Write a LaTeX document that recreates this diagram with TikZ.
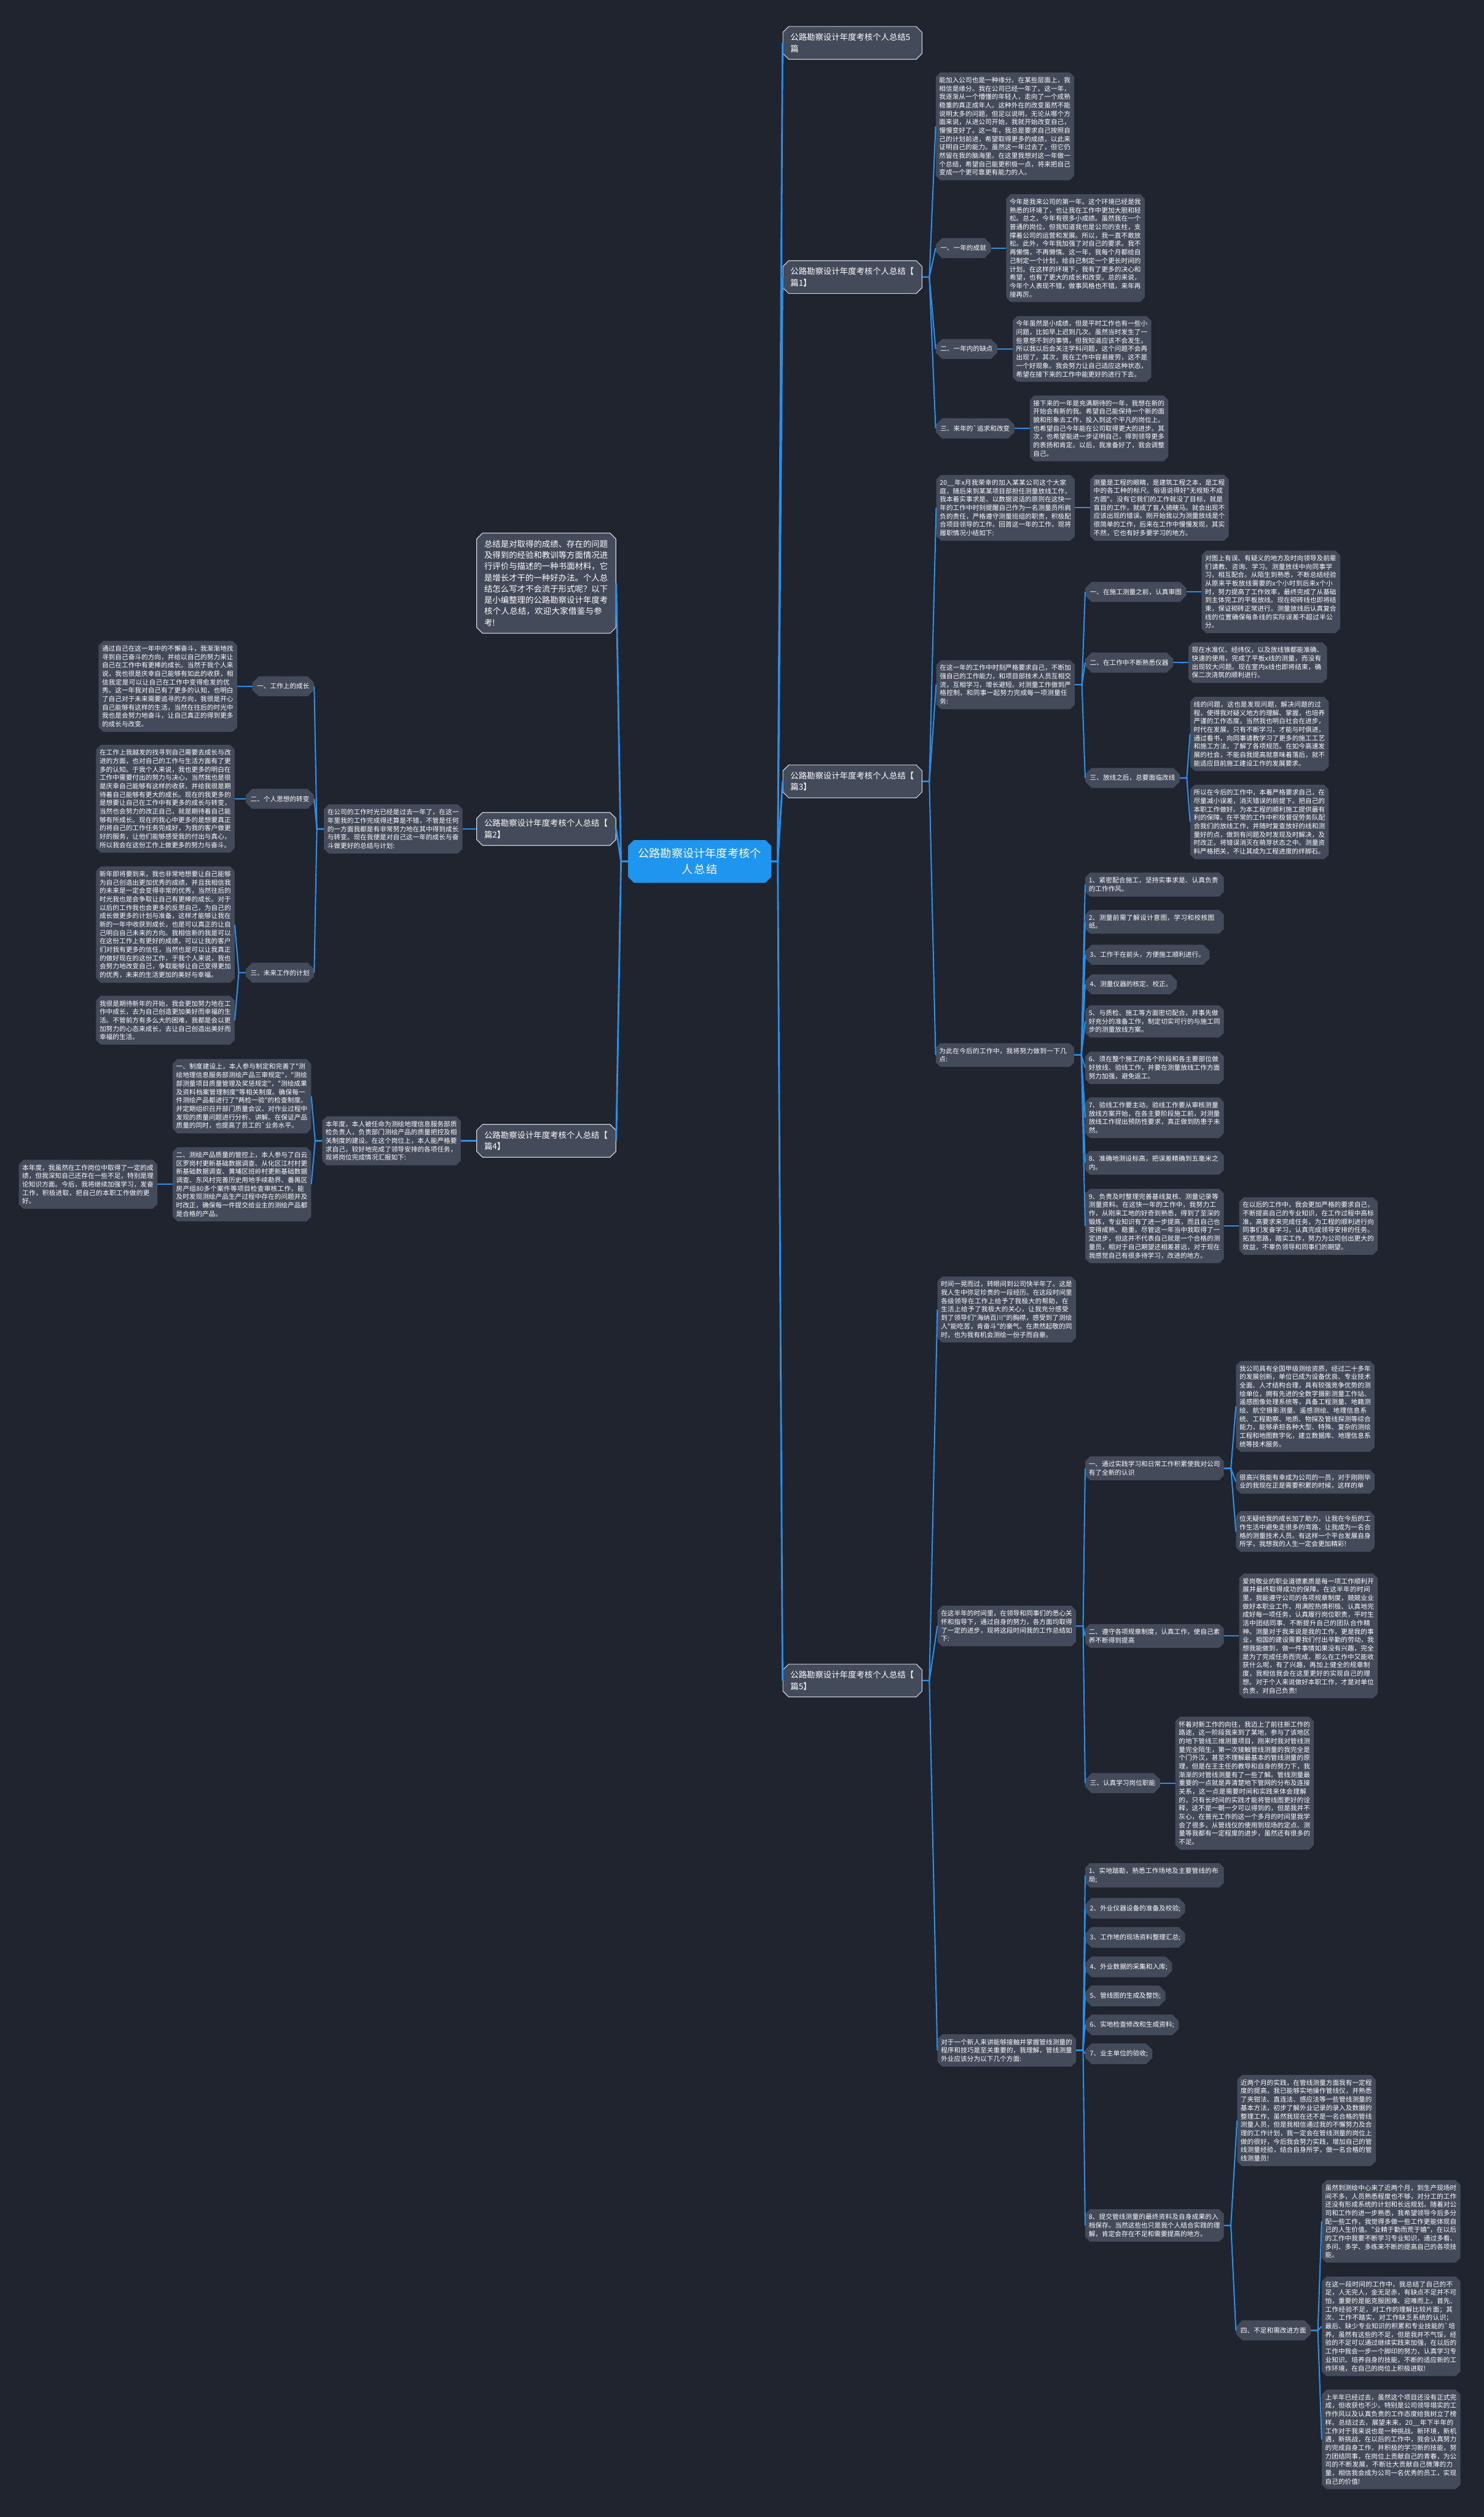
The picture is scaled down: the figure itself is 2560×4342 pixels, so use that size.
\documentclass[tikz,border=0pt]{standalone}
\usepackage{fontspec}
\newfontfamily\cjk{Noto Sans CJK SC}
\XeTeXlinebreaklocale "zh"
\XeTeXlinebreakskip = 0pt plus 1pt
\usetikzlibrary{shapes.misc}
\usetikzlibrary{positioning}
\definecolor{bgcol}{HTML}{20242F}
\definecolor{boxcol}{HTML}{434A59}
\definecolor{rimcol}{HTML}{CDD1D9}
\definecolor{edgecol}{HTML}{2B8FE6}
\definecolor{rootcol}{HTML}{1E96F0}
\tikzstyle{root} = [chamfered rectangle, chamfered rectangle xsep=5pt, chamfered rectangle ysep=5pt,
fill=rootcol, text=white, font={\cjk\fontsize{19.3pt}{27.7pt}\selectfont}, text width=213pt,
align=center, inner xsep=12pt, inner ysep=9pt]
\tikzstyle{topic} = [chamfered rectangle, chamfered rectangle xsep=5pt, chamfered rectangle ysep=5pt,
draw=rimcol, line width=1.2pt, fill=boxcol, text=white, font={\cjk\fontsize{14.2pt}{19.4pt}\selectfont},
text width=214pt, align=left, inner xsep=8pt, inner ysep=7pt]
\tikzstyle{leaf} = [chamfered rectangle, chamfered rectangle xsep=4pt, chamfered rectangle ysep=4pt,
fill=boxcol, text=white, font={\cjk\fontsize{11.3pt}{14.5pt}\selectfont}, text width=227pt,
align=left, inner xsep=2pt, inner ysep=4pt]
\tikzstyle{tag} = [chamfered rectangle, chamfered rectangle xsep=5pt, chamfered rectangle ysep=6pt,
fill=boxcol, text=white, font={\cjk\fontsize{11.3pt}{14.5pt}\selectfont}, inner xsep=3pt, inner ysep=6pt]
\tikzstyle{link} = [draw=edgecol, line width=2.2pt]
\tikzstyle{trunk} = [draw=edgecol, line width=3pt]

\begin{document}
\begin{tikzpicture}[x=1pt, y=-1pt, node distance=26pt]
	\useasboundingbox (0,0) rectangle (2560,4342);
	\fill[bgcol] (0,0) rectangle (2560,4342);
	\node [root] (root) at (1207,1486) {公路勘察设计年度考核个\\人总结};
	%% Right topics
	\node [topic, anchor=west] (t5) at (1350,74) {公路勘察设计年度考核个人总结5\\篇};
	\node [topic, anchor=west] (t1) at (1350,478) {公路勘察设计年度考核个人总结【\\篇1】};
	\node [topic, anchor=west] (t3) at (1350,1348) {公路勘察设计年度考核个人总结【\\篇3】};
	\node [topic, anchor=west] (t6) at (1350,2899) {公路勘察设计年度考核个人总结【\\篇5】};
	%% Left topics
	\node [topic, anchor=east] (intro) at (1063,1006) {总结是对取得的成绩、存在的问题及得到的经验和教训等方面情况进行评价与描述的一种书面材料，它是增长才干的一种好办法。个人总结怎么写才不会流于形式呢？以下是小编整理的公路勘察设计年度考核个人总结，欢迎大家借鉴与参考!};
	\node [topic, anchor=east] (t2) at (1063,1430) {公路勘察设计年度考核个人总结【\\篇2】};
	\node [topic, anchor=east] (t4) at (1063,1968) {公路勘察设计年度考核个人总结【\\篇4】};

	%% Part 1
	\node [leaf, anchor=west] (p1t) at (1614,218) {能加入公司也是一种缘分。在某些层面上，我相信是缘分。我在公司已经一年了。这一年，我逐渐从一个懵懂的年轻人，走向了一个成熟稳重的真正成年人。这种外在的改变虽然不能说明太多的问题，但足以说明，无论从哪个方面来说，从进公司开始，我就开始改变自己，慢慢变好了。这一年，我总是要求自己按照自己的计划前进，希望取得更多的成绩，以此来证明自己的能力。虽然这一年过去了，但它仍然留在我的脑海里。在这里我想对这一年做一个总结，希望自己能更积极一点，将来把自己变成一个更可靠更有能力的人。};
	\node [tag, anchor=west] (l1a) at (1614,428) {一、一年的成就};
	\node [tag, anchor=west] (l1b) at (1614,602) {二、一年内的缺点};
	\node [tag, anchor=west] (l1c) at (1614,739) {三、来年的`追求和改变};
	\node [leaf, right=of l1a] (b1a) {今年是我来公司的第一年。这个环境已经是我熟悉的环境了，也让我在工作中更加大胆和轻松。总之，今年有很多小成绩。虽然我在一个普通的岗位，但我知道我也是公司的支柱，支撑着公司的运营和发展。所以，我一直不敢放松。此外，今年我加强了对自己的要求。我不再懒惰，不再懒惰。这一年，我每个月都给自己制定一个计划，给自己制定一个更长时间的计划。在这样的环境下，我有了更多的决心和希望，也有了更大的成长和改变。总的来说，今年个人表现不错，做事风格也不错，来年再接再厉。};
	\node [leaf, right=of l1b] (b1b) {今年虽然是小成绩，但是平时工作也有一些小问题，比如早上迟到几次。虽然当时发生了一些意想不到的事情，但我知道应该不会发生。所以我以后会关注学科问题，这个问题不会再出现了。其次，我在工作中容易疲劳，这不是一个好现象。我会努力让自己适应这种状态，希望在接下来的工作中能更好的进行下去。};
	\node [leaf, right=of l1c] (b1c) {接下来的一年是充满期待的一年，我想在新的开始会有新的我。希望自己能保持一个新的面貌和形象去工作，投入到这个平凡的岗位上。也希望自己今年能在公司取得更大的进步。其次，也希望能进一步证明自己，得到领导更多的表扬和肯定。以后，我准备好了，我会调整自己。};

	%% Part 3
	\node [leaf, anchor=west] (p3t) at (1615,876) {20\_\_年x月我荣幸的加入某某公司这个大家庭，随后来到某某项目部担任测量放线工作，我本着实事求是、以数据说话的原则在这快一年的工作中时刻提醒自己作为一名测量员所肩负的责任，严格遵守测量班组的职责，积极配合项目领导的工作。回首这一年的工作，现将履职情况小结如下:};
	\node [leaf, right=of p3t] (b3t) {测量是工程的眼睛，是建筑工程之本，是工程中的各工种的标尺。俗语说得好"无规矩不成方圆"。没有它我们的工作就没了目标，就是盲目的工作，就成了盲人骑瞎马。就会出现不应该出现的错误。刚开始我以为测量放线是个很简单的工作，后来在工作中慢慢发现，其实不然，它也有好多要学习的地方。};
	\node [leaf, anchor=west] (p3m) at (1615,1181) {在这一年的工作中时刻严格要求自己，不断加强自己的工作能力，和项目部技术人员互相交流，互相学习，增长避短。对测量工作做到严格控制，和同事一起努力完成每一项测量任务:};
	\node [tag, anchor=west] (l3a) at (1872,1021) {一、在施工测量之前，认真审图};
	\node [tag, anchor=west] (l3b) at (1872,1143) {二、在工作中不断熟悉仪器};
	\node [tag, anchor=west] (l3c) at (1872,1342) {三、放线之后，总要面临改线};
	\node [leaf, right=of l3a] (b3a) {对图上有误、有疑义的地方及时向领导及前辈们请教、咨询、学习。测量放线中向同事学习，相互配合。从陌生到熟悉，不断总结经验从原来平板放线需要的x个小时到后来x个小时，努力提高了工作效率，最终完成了从基础到主体完工的平板放线。现在砌砖线也即将结束，保证砌砖正常进行。测量放线后认真复合线的位置确保每条线的实际误差不超过半公分。};
	\node [leaf, right=of l3b] (b3b) {现在水准仪、经纬仪，以及放线锥都能准确、快速的使用，完成了平板x线的测量，而没有出现较大问题。现在室内x线也即将结束，确保二次浇筑的顺利进行。};
	\node [leaf, anchor=west] (b3c1) at (2053,1266) {线的问题，这也是发现问题，解决问题的过程，使得我对疑义地方的理解、掌握，也培养严谨的工作态度。当然我也明白社会在进步，时代在发展，只有不断学习，才能与时俱进，通过看书，向同事请教学习了更多的施工工艺和施工方法，了解了各项规范。在如今高速发展的社会，不能自我提高就意味着落后，就不能适应目前施工建设工作的发展要求。};
	\node [leaf, anchor=west] (b3c2) at (2053,1418) {所以在今后的工作中，本着严格要求自己，在尽量减小误差，消灭错误的前提下。把自己的本职工作做好。为本工程的顺利施工提供最有利的保障。在平常的工作中积极督促劳务队配合我们的放线工作，并随时复查放好的线和测量好的点，做到有问题及时发现及时解决，及时改正。将错误消灭在萌芽状态之中。测量资料严格把关，不让其成为工程进度的绊脚石。};
	\node [leaf, anchor=west] (p3n) at (1614,1820) {为此在今后的工作中，我将努力做到一下几点:};
	\node [leaf, anchor=west] (i31) at (1872,1526) {1、紧密配合施工，坚持实事求是、认真负责的工作作风。};
	\node [leaf, anchor=west] (i32) at (1872,1590) {2、测量前需了解设计意图，学习和校核图纸。};
	\node [tag, anchor=west] (i33) at (1872,1647) {3、工作干在前头，方便施工顺利进行。};
	\node [tag, anchor=west] (i34) at (1872,1698) {4、测量仪器的核定、校正。};
	\node [leaf, anchor=west] (i35) at (1872,1762) {5、与质检、施工等方面密切配合，并事先做好充分的准备工作，制定切实可行的与施工同步的测量放线方案。};
	\node [leaf, anchor=west] (i36) at (1872,1842) {6、须在整个施工的各个阶段和各主要部位做好放线、验线工作，并要在测量放线工作方面努力加强，避免返工。};
	\node [leaf, anchor=west] (i37) at (1872,1928) {7、验线工作要主动。验线工作要从审核测量放线方案开始，在各主要阶段施工前，对测量放线工作提出预防性要求，真正做到防患于未然。};
	\node [leaf, anchor=west] (i38) at (1872,2006) {8、准确地测设标高，把误差精确到五毫米之内。};
	\node [leaf, anchor=west] (i39) at (1872,2115) {9、负责及时整理完善基线复核、测量记录等测量资料。在这快一年的工作中，我努力工作，从刚来工地的好奇到熟悉，得到了至深的锻炼，专业知识有了进一步提高，而且自己也变得成熟、稳重。尽管这一年当中我取得了一定进步，但这并不代表自己就是一个合格的测量员，相对于自己期望还相差甚远，对于现在我感觉自己有很多待学习，改进的地方。};
	\node [leaf, right=of i39] (b3n) {在以后的工作中，我会更加严格的要求自己，不断提高自己的专业知识，在工作过程中高标准，高要求来完成任务，为工程的顺利进行向同事们发奋学习，认真完成领导安排的任务。拓宽思路，踏实工作，努力为公司创出更大的效益，不辜负领导和同事们的期望。};

	%% Part 5
	\node [leaf, anchor=west] (p6t) at (1617,2259) {时间一晃而过，转眼间到公司快半年了。这是我人生中弥足珍贵的一段经历。在这段时间里各级领导在工作上给予了我极大的帮助，在生活上给予了我极大的关心，让我充分感受到了领导们"海纳百川"的胸襟，感受到了测绘人"能吃苦，肯奋斗"的豪气。在肃然起敬的同时，也为我有机会测绘一份子而自豪。};
	\node [leaf, anchor=west] (p6m) at (1617,2805) {在这半年的时间里，在领导和同事们的悉心关怀和指导下，通过自身的努力，各方面均取得了一定的进步，现将这段时间我的工作总结如下:};
	\node [leaf, anchor=west] (l6a) at (1872,2533) {一、通过实践学习和日常工作积累使我对公司有了全新的认识};
	\node [leaf, anchor=west] (l6b) at (1872,2822) {二、遵守各项规章制度，认真工作，使自己素养不断得到提高};
	\node [tag, anchor=west] (l6c) at (1872,3076) {三、认真学习岗位职能};
	\node [leaf, anchor=west] (b6a1) at (2132,2426) {我公司具有全国甲级测绘资质，经过二十多年的发展创新，单位已成为设备优良、专业技术全面、人才结构合理，具有较强竞争优势的测绘单位，拥有先进的全数字摄影测量工作站、遥感图像处理系统等，具备工程测量、地籍测绘、航空摄影测量、遥感测绘、地理信息系统、工程勘察、地质、物探及管线探测等综合能力，能够承担各种大型、特殊、复杂的测绘工程和地图数字化，建立数据库、地理信息系统等技术服务。};
	\node [leaf, anchor=west] (b6a2) at (2132,2556) {很高兴我能有幸成为公司的一员，对于刚刚毕业的我现在正是需要积累的时候，这样的单};
	\node [leaf, anchor=west] (b6a3) at (2132,2642) {位无疑给我的成长加了助力，让我在今后的工作生活中避免走很多的弯路，让我成为一名合格的测量技术人员。有这样一个平台发展自身所学，我想我的人生一定会更加精彩!};
	\node [leaf, right=of l6b] (b6b) {爱岗敬业的职业道德素质是每一项工作顺利开展并最终取得成功的保障。在这半年的时间里，我能遵守公司的各项规章制度，兢兢业业做好本职业工作，用满腔热情积极、认真地完成好每一项任务，认真履行岗位职责，平时生活中团结同事、不断提升自己的团队合作精神。测量对于我来说是我的工作，更是我的事业，祖国的建设需要我们付出辛勤的劳动，我想我能做到，做一件事情如果没有兴趣，完全是为了完成任务而完成，那么在工作中又能收获什么呢，有了兴趣，再加上健全的规章制度，我相信我会在这里更好的实现自己的理想。对于个人来说做好本职工作，才是对单位负责，对自己负责!};
	\node [leaf, right=of l6c] (b6c) {怀着对新工作的向往，我迈上了前往新工作的路途，这一阶段我来到了某地，参与了该地区的地下管线三维测量项目，刚来时我对管线测量完全陌生，第一次接触管线测量的我完全是个门外汉，甚至不理解最基本的管线测量的原理，但是在王主任的教导和自身的努力下，我渐渐的对管线测量有了一些了解。管线测量最重要的一点就是弄清楚地下管网的分布及连接关系，这一点是需要时间和实践来体会理解的，只有长时间的实践才能将管线图更好的诠释，这不是一朝一夕可以得到的，但是我并不灰心，在普光工作的这一个多月的时间里我学会了很多，从管线仪的使用到现场的定点、测量等我都有一定程度的进步，虽然还有很多的不足。};
	\node [leaf, anchor=west] (p6n) at (1617,3537) {对于一个新人来讲能够接触并掌握管线测量的程序和技巧是至关重要的，我理解，管线测量外业应该分为以下几个方面:};
	\node [leaf, anchor=west] (i61) at (1872,3235) {1、实地踏勘，熟悉工作场地及主要管线的布局;};
	\node [tag, anchor=west] (i62) at (1872,3292) {2、外业仪器设备的准备及校验;};
	\node [tag, anchor=west] (i63) at (1872,3342) {3、工作地的现场资料整理汇总;};
	\node [tag, anchor=west] (i64) at (1872,3393) {4、外业数据的采集和入库;};
	\node [tag, anchor=west] (i65) at (1872,3443) {5、管线图的生成及整饬;};
	\node [tag, anchor=west] (i66) at (1872,3493) {6、实地检查修改和生成资料;};
	\node [tag, anchor=west] (i67) at (1872,3543) {7、业主单位的验收;};
	\node [leaf, anchor=west] (i68) at (1872,3839) {8、提交管线测量的最终资料及自身成果的入档保存。当然这些也只是我个人结合实践的理解，肯定会存在不足和需要提高的地方。};
	\node [leaf, anchor=west] (b6n) at (2134,3658) {近两个月的实践，在管线测量方面我有一定程度的提高，我已能够实地操作管线仪，并熟悉了夹钳法、直连法、感应法等一些管线测量的基本方法，初步了解外业记录的录入及数据的整理工作，虽然我现在还不是一名合格的管线测量人员，但是我相信通过我的不懈努力及合理的工作计划，我一定会在管线测量的岗位上做的很好，今后我会努力实践，增加自己的管线测量经验，结合自身所学，做一名合格的管线测量员!};
	\node [tag, anchor=west] (l6d) at (2132,4020) {四、不足和需改进方面};
	\node [leaf, anchor=west] (b6d1) at (2280,3832) {虽然到测绘中心来了近两个月，到生产现场时间不多，人员熟悉程度也不够，对分工的工作还没有形成系统的计划和长远规划。随着对公司和工作的进一步熟悉，我希望领导今后多分配一些工作，我觉得多做一些工作更能体现自己的人生价值。"业精于勤而荒于嬉"，在以后的工作中我要不断学习专业知识，通过多看、多问、多学、多练来不断的提高自己的各项技能。};
	\node [leaf, anchor=west] (b6d2) at (2280,4013) {在这一段时间的工作中，我总结了自己的不足，人无完人，金无足赤，有缺点不足并不可怕，重要的是能克服困难、迎难而上。首先、工作经验不足，对工作的理解比较片面；其次、工作不踏实，对工作缺乏系统的认识；最后、缺少专业知识的积累和专业技能的`培养。虽然有这些的不足，但是我并不气馁，经验的不足可以通过继续实践来加强，在以后的工作中我会一步一个脚印的努力，认真学习专业知识、培养自身的技能，不断的适应新的工作环境，在自己的岗位上积极进取!};
	\node [leaf, anchor=west] (b6d3) at (2280,4208) {上半年已经过去，虽然这个项目还没有正式完成，但收获也不少。特别是公司领导塌实的工作作风以及认真负责的工作态度给我树立了榜样。总结过去，展望未来，20\_\_年下半年的工作对于我来说也是一种挑战。新环境，新机遇，新挑战，在以后的工作中，我会认真努力的完成自身工作，并积极的学习新的技能，努力团结同事，在岗位上贡献自己的青春，为公司的不断发展，不断壮大贡献自己微薄的力量，相信我会成为公司一名优秀的员工，实现自己的价值!};

	%% Part 2
	\node [leaf, anchor=east] (p2t) at (798,1430) {在公司的工作时光已经是过去一年了，在这一年里我的工作完成得还算是不错，不管是任何的一方面我都是有非常努力地在其中得到成长与转变。现在我便是对自己这一年的成长与奋斗做更好的总结与计划:};
	\node [tag, anchor=east] (l2a) at (542,1184) {一、工作上的成长};
	\node [tag, anchor=east] (l2b) at (542,1378) {二、个人思想的转变};
	\node [tag, anchor=east] (l2c) at (542,1678) {三、未来工作的计划};
	\node [leaf, left=of l2a] (b2a) {通过自己在这一年中的不懈奋斗，我渐渐地找寻到自己奋斗的方向，并给以自己的努力来让自己在工作中有更棒的成长。当然于我个人来说，我也很是庆幸自己能够有如此的收获，相信我定是可以让自己在工作中变得愈发的优秀。这一年我对自己有了更多的认知，也明白了自己对于未来需要追寻的方向，我很是开心自己能够有这样的生活，当然在往后的时光中我也是会努力地奋斗，让自己真正的得到更多的成长与改变。};
	\node [leaf, anchor=east] (b2b) at (405,1378) {在工作上我越发的找寻到自己需要去成长与改进的方面，也对自己的工作与生活方面有了更多的认知。于我个人来说，我也更多的明白在工作中需要付出的努力与决心，当然我也是很是庆幸自己能够有这样的收获，并给我很是期待着自己能够有更大的成长。现在的我更多的是想要让自己在工作中有更多的成长与转变，当然也会努力的改正自己，就是期待着自己能够有所成长。现在的我心中更多的是想要真正的将自己的工作任务完成好，为我的客户做更好的服务，让他们能够感受我的付出与真心，所以我会在这份工作上做更多的努力与奋斗。};
	\node [leaf, anchor=east] (b2c1) at (405,1595) {新年即将要到来，我也非常地想要让自己能够为自己创造出更加优秀的成绩，并且我相信我的未来是一定会变得非常的优秀，当然往后的时光我也是会争取让自己有更棒的成长。对于以后的工作我也会更多的反思自己，为自己的成长做更多的计划与准备，这样才能够让我在新的一年中收获到成长，也是可以真正的让自己明白自己未来的方向。我相信新的我是可以在这份工作上有更好的成绩，可以让我的客户们对我有更多的信任，当然也是可以让我真正的做好现在的这份工作，于我个人来说，我也会努力地改变自己，争取能够让自己变得更加的优秀，未来的生活更加的美好与幸福。};
	\node [leaf, anchor=east] (b2c2) at (405,1760) {我很是期待新年的开始，我会更加努力地在工作中成长，去为自己创造更加美好而幸福的生活。不管前方有多么大的困难，我都是会以更加努力的心态来成长，去让自己创造出美好而幸福的生活。};

	%% Part 4
	\node [leaf, anchor=east] (p4t) at (795,1968) {本年度，本人被任命为测绘地理信息服务部质检负责人，负责部门测绘产品的质量把控及相关制度的建设。在这个岗位上，本人能严格要求自己，较好地完成了领导安排的各项任务，现将岗位完成情况汇报如下:};
	\node [leaf, anchor=east] (b4a) at (537,1891) {一、制度建设上，本人参与制定和完善了"测绘地理信息服务部测绘产品三审规定"，"测绘部测量项目质量管理及奖惩规定"，"测绘成果及资料档案管理制度"等相关制度。确保每一件测绘产品都进行了"两检一验"的检查制度。并定期组织召开部门质量会议，对作业过程中发现的质量问题进行分析、讲解。在保证产品质量的同时，也提高了员工的`业务水平。};
	\node [leaf, anchor=east] (b4b) at (537,2043) {二、测绘产品质量的管控上，本人参与了白云区罗岗村更新基础数据调查、从化区江村村更新基础数据调查、黄埔区班岭村更新基础数据调查、东风村完善历史用地手续勘界、番禺区房产组80多个案件等项目检查审核工作，能及时发现测绘产品生产过程中存在的问题并及时改正，确保每一件提交给业主的测绘产品都是合格的产品。};
	\node [leaf, left=of b4b] (b4c) {本年度，我虽然在工作岗位中取得了一定的成绩，但我深知自己还存在一些不足，特别是理论知识方面。今后，我将继续加强学习，发奋工作，积极进取，把自己的本职工作做的更好。};

	%% Links
	\foreach \a/\b in {root/t5, root/t1, root/t3, root/t6}
		\path [trunk] (\a.east) -- ++(11,0) -- (\b.west);
	\foreach \a/\b in {root/intro, root/t2, root/t4}
		\path [trunk] (\a.west) -- ++(-12,0) -- (\b.east);
	\foreach \a/\b in {t1/p1t, t1/l1a, t1/l1b, t1/l1c, l1a/b1a, l1b/b1b, l1c/b1c,
		t3/p3t, t3/p3m, t3/p3n, p3t/b3t, p3m/l3a, p3m/l3b, p3m/l3c, l3a/b3a, l3b/b3b, l3c/b3c1, l3c/b3c2,
		p3n/i31, p3n/i32, p3n/i33, p3n/i34, p3n/i35, p3n/i36, p3n/i37, p3n/i38, p3n/i39, i39/b3n,
		t6/p6t, t6/p6m, t6/p6n, p6m/l6a, p6m/l6b, p6m/l6c, l6a/b6a1, l6a/b6a2, l6a/b6a3, l6b/b6b, l6c/b6c,
		p6n/i61, p6n/i62, p6n/i63, p6n/i64, p6n/i65, p6n/i66, p6n/i67, p6n/i68, i68/b6n, i68/l6d,
		l6d/b6d1, l6d/b6d2, l6d/b6d3}
		\path [link] (\a.east) -- ++(12,0) -- (\b.west);
	\foreach \a/\b in {t2/p2t, p2t/l2a, p2t/l2b, p2t/l2c, l2a/b2a, l2b/b2b, l2c/b2c1, l2c/b2c2,
		t4/p4t, p4t/b4a, p4t/b4b, b4b/b4c}
		\path [link] (\a.west) -- ++(-12,0) -- (\b.east);
\end{tikzpicture}
\end{document}
